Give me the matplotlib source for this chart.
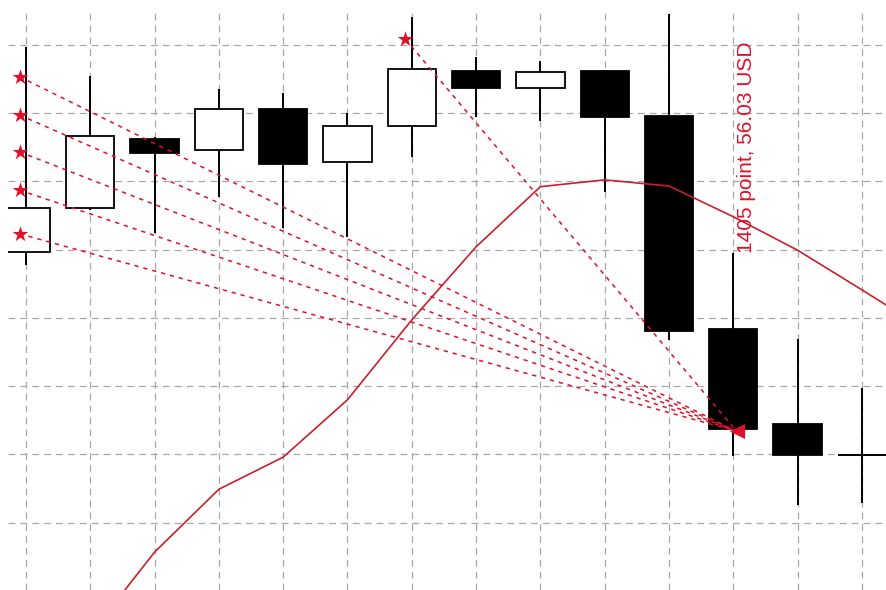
import matplotlib
matplotlib.use("Agg")
import matplotlib.pyplot as plt
import numpy as np

# ---- data (price units: one grid step = 10) ----
idx    = list(range(14))
opens  = [49.6, 56.1, 66.2, 64.6, 70.6, 62.8, 68.1, 76.1, 73.6, 76.1, 69.5, 38.4, 24.5, 19.9]
highs  = [79.6, 75.4, 66.5, 73.5, 72.9, 70.0, 84.0, 78.2, 77.6, 76.3, 84.5, 49.5, 36.9, 29.7]
lows   = [47.7, 55.8, 52.4, 57.7, 53.1, 51.8, 63.5, 69.4, 68.8, 58.4, 36.7, 19.8, 12.6, 12.9]
closes = [56.1, 66.6, 64.1, 70.6, 62.5, 68.1, 76.4, 73.6, 76.0, 69.4, 38.1, 23.7, 19.9, 19.9]

ma_x = list(range(1, 15))
ma_y = [-6.3, 5.7, 14.9, 19.6, 28.0, 39.7, 50.4, 59.2, 60.2, 59.3, 54.8, 49.9, 44.1, 38.2]

star_x = [-0.1, -0.1, -0.1, -0.1, -0.1, 5.9]
star_y = [75.3, 69.7, 64.3, 58.7, 52.3, 80.8]
target_x = 11.05
target_y = 23.4

label_text = "1405 point, 56.03 USD"
label_x = 11.2
label_y = 65.0

grid_y = [10, 20, 30, 40, 50, 60, 70, 80]

# ---- figure ----
fig = plt.figure(figsize=(8.86, 5.90), dpi=100)
ax = fig.add_axes([8 / 886, 0, 878 / 886, 580 / 590])
ax.set_xlim(-0.28, 13.375)
ax.set_ylim(0.15, 85.07)
for s in ax.spines.values():
    s.set_visible(False)
ax.set_xticks(idx)
ax.set_yticks(grid_y)
ax.tick_params(left=False, bottom=False, labelleft=False, labelbottom=False)
ax.grid(True, color="#a8a8a8", linestyle=(0, (5.5, 4.0)), linewidth=0.9)
ax.set_axisbelow(True)

red = "#e0102a"
ma_red = "#c8202c"

# wicks
ax.vlines(idx, lows, highs, colors="black", linewidth=1.4, zorder=2)
# bodies
for i, o, c in zip(idx, opens, closes):
    bottom = min(o, c)
    h = abs(c - o)
    face = "white" if c > o else "black"
    if h == 0:
        ax.hlines(o, i - 0.375, i + 0.375, colors="black", linewidth=1.4, zorder=3)
    else:
        ax.bar(i, h, bottom=bottom, width=0.75, color=face, edgecolor="black",
               linewidth=1.3, zorder=3)

# moving average
ax.plot(ma_x, ma_y, color=ma_red, linewidth=1.2, zorder=5)

# dashed lines from stars to target
for sx, sy in zip(star_x, star_y):
    ax.plot([sx, target_x], [sy, target_y], color=red, linewidth=1.1,
            linestyle=(0, (2.8, 3.2)), zorder=6)
ax.scatter(star_x, star_y, marker="*", s=140, color=red, zorder=7, linewidths=0)
ax.scatter([target_x], [target_y], marker="<", s=120, color=red, zorder=7, linewidths=0)

ax.text(label_x, label_y, label_text, rotation=90, color=red,
        family=["Liberation Sans", "DejaVu Sans"], fontsize=15,
        ha="center", va="center", zorder=8)

fig.savefig("out.png", dpi=100)
